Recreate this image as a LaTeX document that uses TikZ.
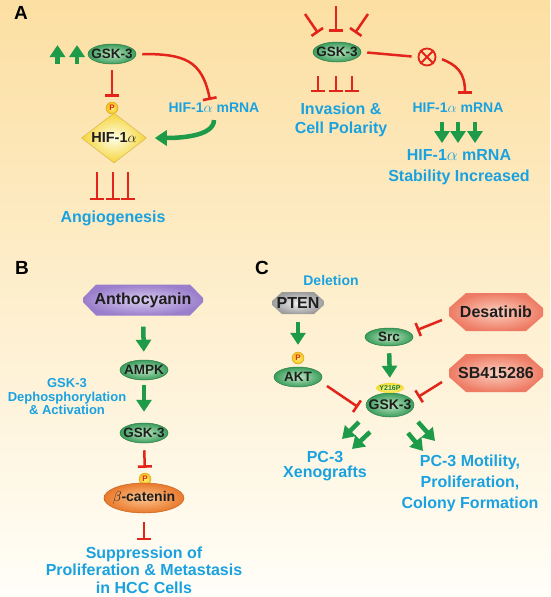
\documentclass[tikz,border=0pt]{standalone}
\usepackage{fontspec}
\setmainfont{Liberation Sans}
\usetikzlibrary{positioning, calc, arrows.meta, shapes.geometric}

\definecolor{inhred}{HTML}{E3241B}
\definecolor{actgreen}{HTML}{1E9B48}
\definecolor{txtblue}{HTML}{1AA2E0}
\definecolor{nodeblack}{HTML}{1E1E1E}
\definecolor{bgtop}{HTML}{FCDFA2}
\definecolor{bgmid}{HTML}{FEF1D2}
\definecolor{bgbot}{HTML}{FFFEF8}
\definecolor{protin}{HTML}{BDE5C0}
\definecolor{protout}{HTML}{3A9D5C}
\definecolor{protline}{HTML}{2E7D48}
\definecolor{hifin}{HTML}{FFFDE8}
\definecolor{hifout}{HTML}{F5D53A}
\definecolor{hifline}{HTML}{D9B64A}
\definecolor{pin}{HTML}{FFF27A}
\definecolor{pout}{HTML}{F2C21A}
\definecolor{pline}{HTML}{D89E1A}
\definecolor{catin}{HTML}{FCC690}
\definecolor{catout}{HTML}{E9792B}
\definecolor{catline}{HTML}{C8641F}
\definecolor{anthoin}{HTML}{D9CCF0}
\definecolor{anthoout}{HTML}{9A7ECC}
\definecolor{drugin}{HTML}{FBD0C0}
\definecolor{drugout}{HTML}{EE7B64}
\definecolor{ptenin}{HTML}{F2F2F2}
\definecolor{ptenout}{HTML}{9C9C9C}
\definecolor{sitein}{HTML}{FFF8A0}
\definecolor{siteout}{HTML}{F2DA30}

\newcommand{\fsz}[1]{\fontsize{#1}{#1}\selectfont\bfseries}
\newcommand{\fszb}[2]{\fontsize{#1}{#2}\selectfont\bfseries}

\tikzset{
  % Molecules
  protein/.style  = { ellipse, draw=protline, line width=0.5pt, inner color=protin,
                       outer color=protout, inner xsep=-5pt, inner ysep=-3pt,
                       minimum width=48pt, minimum height=20pt, font=\fsz{13.5}, text=nodeblack },
  catenin/.style  = { draw=catline, inner color=catin, outer color=catout,
                       minimum width=80pt, minimum height=30pt, font=\fsz{14} },
  hifbox/.style   = { diamond, draw=hifline, line width=0.5pt, inner color=hifin,
                       outer color=hifout, inner sep=0pt, aspect=1.3, minimum width=65pt,
                       minimum height=50pt, font=\fsz{14.5}, text=nodeblack },
  pbadge/.style   = { circle, draw=pline, line width=0.4pt, inner color=pin, outer color=pout,
                       minimum size=12pt, inner sep=0, font=\fsz{8}, text=inhred },
  sitebadge/.style= { ellipse, inner color=sitein, outer color=siteout, minimum width=28pt,
                       minimum height=10pt, inner sep=-3pt, font=\fsz{7}, text=actgreen!80!black },
  hexnode/.style n args = {4}{ inner sep=0, font=\fsz{16}, text=nodeblack,
                       path picture = {
                         \shade[inner color=#1, outer color=#2]
                           ([xshift=#3]path picture bounding box.north west) --
                           ([xshift=-#3]path picture bounding box.north east) --
                           ([yshift=#4]path picture bounding box.east) --
                           ([yshift=-#4]path picture bounding box.east) --
                           ([xshift=-#3]path picture bounding box.south east) --
                           ([xshift=#3]path picture bounding box.south west) --
                           ([yshift=-#4]path picture bounding box.west) --
                           ([yshift=#4]path picture bounding box.west) -- cycle;
                       } },
  blocknode/.style= { circle, draw=inhred, line width=1.8pt, minimum size=17pt, inner sep=0 },
  % Texts
  bluetxt/.style  = { text=txtblue, font=\fszb{16}{19}, align=center, inner sep=0 },
  panellabel/.style = { font=\fsz{19}, text=black, inner sep=0 },
  % Connectors
  actarrow/.style = { actgreen, line width=4.5pt, -{Triangle[width=15pt, length=12pt]} },
  inhib/.style    = { inhred, line width=2.5pt, -{Bar[width=14pt, line width=2.6pt]} },
  inhline/.style  = { inhred, line width=2.5pt }
}

\begin{document}
\begin{tikzpicture}[x=1pt, y=-1pt]

  \useasboundingbox (0,0) rectangle (550,597);
  \shade[top color=bgtop, middle color=bgmid, bottom color=bgbot] (0,0) rectangle (550,597);

  % --- Panel A, left: GSK-3 and HIF-1a ------------------------------
  \node[panellabel] (labA) at (21,13) {A};
  \node[protein] (gskHif) at (112,54) {GSK-3};
  \node[pbadge] (pA) at (112,108) {P};
  \node[hifbox] (hif) at (114,138) {HIF-1$\alpha$};
  \node[bluetxt, font=\fsz{14}] (mrnaA) at (214,108) {HIF-1$\alpha$ mRNA};
  \node[bluetxt] (angio) at (113,218) {Angiogenesis};

  \draw[actarrow] (57.5,64) -- (57.5,45);
  \draw[actarrow] (77,64) -- (77,45);
  \draw[inhib, shorten <=6pt, shorten >=5pt] (gskHif.south) -- (pA.north);
  \draw[inhib, shorten <=6pt] (gskHif.east) .. controls +(48,0) and +(-8,-40) .. ([xshift=-4pt,yshift=3pt]mrnaA.north);
  \draw[actarrow, shorten <=7pt, shorten >=8pt] (mrnaA.south) .. controls +(0,24) and +(30,0) .. (hif.east);
  \foreach \dx in {-17pt,-1pt,14pt}
    \draw[inhib] ([xshift=\dx, yshift=-9pt]hif.south) -- ++(0,28);

  % --- Panel A, right: invasion and mRNA stability ------------------
  \node[protein] (gskInv) at (337,52) {GSK-3};
  \node[blocknode] (blk) at (427,57) {};
  \node[bluetxt, font=\fsz{14}] (mrnaB) at (458,108) {HIF-1$\alpha$ mRNA};
  \node[bluetxt] (invas) at (341,120) {Invasion \&\\Cell Polarity};
  \node[bluetxt, font=\fszb{16}{21}] (stab) at (459,167) {HIF-1$\alpha$ mRNA\\Stability Increased};

  \foreach \sx/\sy/\ex/\ey in {-32/-38/-19/-19, -1/-46/-1/-20, 31/-38/18/-19}
    \draw[inhib] ($(gskInv)+(\sx,\sy)$) -- ($(gskInv)+(\ex,\ey)$);
  \foreach \dx in {-19pt,-1pt,15pt}
    \draw[inhib] ([xshift=\dx, yshift=-14pt]gskInv.south) -- ++(0,16);
  \draw[inhline, shorten <=6pt, shorten >=6pt] (gskInv.east) -- (blk.west);
  \draw[inhred, line width=1.8pt] (blk.north west) -- (blk.south east) (blk.north east) -- (blk.south west);
  \draw[inhib, shorten <=6pt] (blk.east) .. controls +(20,8) and +(0,-22) .. ([xshift=7pt, yshift=9pt]mrnaB.north);
  \foreach \dx in {-16pt,0pt,17pt}
    \draw[actarrow] ([xshift=\dx, yshift=-9pt]mrnaB.south) -- ++(0,21);

  % --- Panel B: anthocyanin -> AMPK -> GSK-3 -> beta-catenin --------
  \node[panellabel] (labB) at (22,268) {B};
  \node[hexnode={anthoin}{anthoout}{13pt}{2pt}, minimum width=120pt, minimum height=31pt] (antho) at (143,300) {Anthocyanin};
  \node[protein] (ampk) at (144,370) {AMPK};
  \node[protein] (gskAmpk) at (144,433) {GSK-3};
  \node[pbadge] (pB) at (145,479) {P};
  \node[protein, catenin] (bcat) at (144,498) {$\beta$-catenin};
  \node[bluetxt, font=\fszb{13}{13.5}] (dephos) at (67,397) {GSK-3\\Dephosphorylation\\\& Activation};
  \node[bluetxt, font=\fszb{16}{17.5}] (suppr) at (144,570) {Suppression of\\Proliferation \& Metastasis\\in HCC Cells};

  \draw[actarrow, shorten <=11pt, shorten >=8pt] (antho.south) -- (ampk.north);
  \draw[actarrow, shorten <=5pt, shorten >=11pt] (ampk.south) -- (gskAmpk.north);
  \draw[inhib, shorten <=7pt, shorten >=5pt] (gskAmpk.south) -- (pB.north);
  \draw[inhib, shorten <=9pt] (bcat.south) -- ([yshift=6pt]suppr.north);

  % --- Panel C: PTEN / Src / GSK-3 in PC-3 cells --------------------
  \node[panellabel] (labC) at (262,268) {C};
  \node[bluetxt, font=\fsz{14}] (delet) at (331,280) {Deletion};
  \node[hexnode={ptenin}{ptenout}{10pt}{2pt}, minimum width=52pt, minimum height=22pt] (pten) at (298,303) {PTEN};
  \node[pbadge] (pC) at (298,358) {P};
  \node[protein] (akt) at (298,377) {AKT};
  \node[protein, minimum height=18pt] (src) at (389,337) {Src};
  \node[hexnode={drugin}{drugout}{17pt}{4pt}, minimum width=94pt, minimum height=38pt] (dasat) at (496,312) {Desatinib};
  \node[hexnode={drugin}{drugout}{17pt}{4pt}, minimum width=94pt, minimum height=38pt] (sbdrug) at (496,373) {SB415286};
  \node[protein, minimum width=48pt, minimum height=24pt, font=\fsz{14}] (gskSrc) at (390,405) {GSK-3};
  \node[sitebadge] (y216) at (390,388) {Y216P};
  \node[bluetxt, font=\fszb{16}{15}] (xeno) at (325,466) {PC-3\\Xenografts};
  \node[bluetxt, font=\fszb{16}{21}] (motil) at (470,483) {PC-3 Motility,\\Proliferation,\\Colony Formation};

  \draw[actarrow, shorten <=8pt, shorten >=7pt] (pten.south) -- (pC.north);
  \draw[inhib] ($(akt)+(29,9)$) -- ($(gskSrc)+(-32,2)$);
  \draw[inhib] ($(dasat)+(-54,8)$) -- ($(src)+(28,-7)$);
  \draw[inhib] ($(sbdrug)+(-54,9)$) -- ($(gskSrc)+(28,-8)$);
  \draw[actarrow, shorten <=7pt, shorten >=5pt] (src.south) -- (y216.north);
  \foreach \sx/\sy/\ex/\ey in {-31/17/-48/34, -20/27/-38/44, 28/17/45/36, 18/28/33/46}
    \draw[actarrow] ($(gskSrc)+(\sx,\sy)$) -- ($(gskSrc)+(\ex,\ey)$);

\end{tikzpicture}
\end{document}
